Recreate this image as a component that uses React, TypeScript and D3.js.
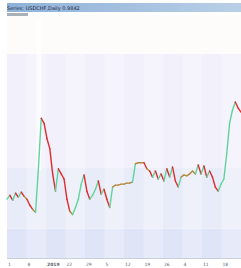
import React, { useEffect, useRef } from 'react'
import * as d3 from 'd3'

// values
const values: number[] = [
  24.2, 25.8, 23.8, 26.7, 25.0, 27.1, 25.4, 24.2, 21.7, 20.0, 18.8, 36.7, 57.5, 55.4, 49.2,
  45.0, 34.6, 27.5, 36.7, 34.6, 32.5, 24.2, 19.2, 17.9, 20.8, 24.2, 30.4, 34.2, 27.5, 24.2,
  25.8, 28.3, 31.7, 26.3, 28.3, 24.2, 20.8, 29.2, 30.0, 30.0, 30.4, 30.4, 30.8, 30.8, 31.3,
  38.8, 39.2, 39.2, 39.2, 36.7, 35.8, 33.3, 35.8, 32.5, 34.6, 31.7, 36.7, 33.3, 37.5, 31.7,
  29.2, 33.3, 34.2, 33.8, 34.6, 35.8, 34.6, 38.3, 34.6, 37.9, 33.3, 35.8, 33.3, 29.2, 27.5,
  30.4, 32.5, 42.9, 55.4, 60.8, 64.2, 61.7, 60.0,
]
const tickLabels: string[] = ['1', '8', '2019', '22', '29', '5', '12', '19', '26', '4', '11', '18']
const bandLevels: number[] = [0, 12, 37, 84, 100]
const bandColors: string[] = ['#dfe5f7', '#e8ecf9', '#f2f1fb', '#fdfcfa']

function App() {
  const ref = useRef<SVGSVGElement>(null)

  useEffect(() => {
    const W = 241, H = 268
    const margin = { top: 15, right: 0, bottom: 10, left: 7 }
    const svg = d3.select(ref.current)
    svg.selectAll('*').remove()

    const x = d3.scaleLinear().domain([0, values.length - 1]).range([margin.left, W - margin.right])
    const y = d3.scaleLinear().domain([0, 100]).range([H - margin.bottom, margin.top])

    svg.append('rect').attr('width', W).attr('height', H).attr('fill', '#ffffff')

    // horizontal background bands
    svg.append('g').selectAll('rect').data(bandColors).join('rect')
      .attr('x', margin.left)
      .attr('width', W - margin.left - margin.right)
      .attr('y', (d, i) => y(bandLevels[i + 1]))
      .attr('height', (d, i) => y(bandLevels[i]) - y(bandLevels[i + 1]))
      .attr('fill', d => d)

    // vertical column stripes
    const cols = d3.range(0, tickLabels.length)
    const colW = (W - margin.left) / tickLabels.length
    svg.append('g').selectAll('rect').data(cols.filter(i => i % 2 === 1)).join('rect')
      .attr('x', i => margin.left + i * colW)
      .attr('width', colW)
      .attr('y', y(84))
      .attr('height', y(0) - y(84))
      .attr('fill', '#ffffff')
      .attr('opacity', 0.25)

    // light marker column near the first spike
    svg.append('rect')
      .attr('x', x(11) - 2).attr('width', 5)
      .attr('y', margin.top + 4).attr('height', y(36) - margin.top - 4)
      .attr('fill', '#ffffff').attr('opacity', 0.7)

    // title bar
    const grad = svg.append('defs').append('linearGradient')
      .attr('id', 'tb').attr('x1', 0).attr('x2', 1)
    grad.append('stop').attr('offset', '0%').attr('stop-color', '#8fb1d8')
    grad.append('stop').attr('offset', '100%').attr('stop-color', '#b9cfe6')
    svg.append('rect').attr('x', margin.left).attr('y', 3).attr('width', W - margin.left).attr('height', 9)
      .attr('fill', 'url(#tb)')
    svg.append('text')
      .attr('x', margin.left).attr('y', 9.5)
      .attr('font-family', 'DejaVu Sans').attr('font-size', 5).attr('fill', '#1d2a45')
      .text('Series: USDCHF,Daily 0.9842')
    svg.append('rect').attr('x', margin.left).attr('y', 13).attr('width', 21).attr('height', 3)
      .attr('fill', '#a9b0b8')

    // line segments coloured by direction
    const segs = d3.pairs(values.map((v, i) => ({ i, v })))
    svg.append('g').selectAll('line').data(segs).join('line')
      .attr('x1', d => x(d[0].i)).attr('y1', d => y(d[0].v))
      .attr('x2', d => x(d[1].i)).attr('y2', d => y(d[1].v))
      .attr('stroke', d => {
        const dv = d[1].v - d[0].v
        if (dv < -1.5) return '#e02b2b'
        if (dv > 1.5) return '#5fd39e'
        return '#b5893f'
      })
      .attr('stroke-width', 1.4)
      .attr('stroke-linecap', 'round')

    // axis line
    svg.append('line')
      .attr('x1', margin.left).attr('x2', W)
      .attr('y1', y(0) + 0.5).attr('y2', y(0) + 0.5)
      .attr('stroke', '#c9cfdc').attr('stroke-width', 1)

    // x axis labels
    svg.append('g').selectAll('text').data(tickLabels).join('text')
      .attr('x', (d, i) => margin.left + 1 + i * colW)
      .attr('y', H - 2.5)
      .attr('font-family', 'DejaVu Sans')
      .attr('font-size', 4.5)
      .attr('font-weight', (d, i) => (i === 2 ? 'bold' : 'normal'))
      .attr('fill', '#5a5f6a')
      .text(d => d)
  }, [])

  return (
    <svg ref={ref} width={241} height={268}
      style={{ position: 'absolute', left: 0, top: 0, display: 'block' }} />
  )
}

export default App
